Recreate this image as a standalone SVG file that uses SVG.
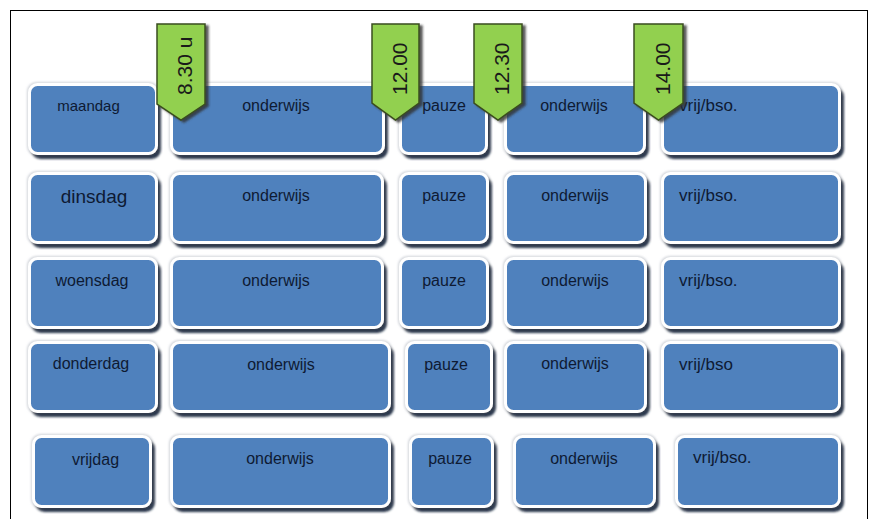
<svg xmlns="http://www.w3.org/2000/svg" width="873" height="519" viewBox="0 0 873 519">
<defs>
<filter id="sh" x="-10%" y="-10%" width="125%" height="135%">
<feMorphology in="SourceAlpha" operator="dilate" radius="1.2" result="d"/>
<feGaussianBlur in="d" stdDeviation="1" result="g"/>
<feFlood flood-color="#c8ccd2" flood-opacity="0.8"/>
<feComposite in2="g" operator="in" result="glow"/>
<feDropShadow in="SourceGraphic" dx="3" dy="4" stdDeviation="0.9" flood-color="#1d2b42" flood-opacity="0.95" result="ds"/>
<feMerge><feMergeNode in="glow"/><feMergeNode in="ds"/></feMerge>
</filter>
<filter id="ash" x="-20%" y="-10%" width="150%" height="130%">
<feDropShadow dx="3" dy="2" stdDeviation="0.8" flood-color="#333" flood-opacity="0.8"/>
</filter>
</defs>
<style>
.box{fill:#4f81bd;stroke:#ffffff;stroke-width:3;filter:url(#sh)}
.t{font-family:"Liberation Sans",Arial,sans-serif;font-size:16px;fill:#0e1a33;text-anchor:middle}
.l{text-anchor:start;font-size:17px}
.tag{fill:#92d050;stroke:#3b4d1f;stroke-width:1.5;stroke-linejoin:miter;filter:url(#ash)}
.tt{font-family:"Liberation Sans",Arial,sans-serif;font-size:21px;fill:#1a1a1a}
</style>
<rect x="0" y="0" width="873" height="519" fill="#ffffff"/>
<rect x="10.5" y="10.5" width="857" height="520" fill="none" stroke="#000" stroke-width="1"/>

<g id="row-maandag">
<g id="maandag"><rect class="box" x="29.5" y="84.5" width="127" height="69" rx="8"/><text class="t" x="88.5" y="111" style="font-size:15px">maandag</text></g>
<g id="ma-onderwijs1"><rect class="box" x="171.5" y="84.5" width="212" height="69" rx="8"/><text class="t" x="276" y="111">onderwijs</text></g>
<g id="ma-pauze"><rect class="box" x="400.5" y="84.5" width="86" height="69" rx="8"/><text class="t" x="444" y="111">pauze</text></g>
<g id="ma-onderwijs2"><rect class="box" x="505.5" y="84.5" width="139" height="69" rx="8"/><text class="t" x="574" y="111">onderwijs</text></g>
<g id="ma-vrij"><rect class="box" x="662.5" y="84.5" width="177" height="69" rx="8"/><text class="t l" x="679" y="111">vrij/bso.</text></g>
</g>

<g id="row-dinsdag">
<g id="dinsdag"><rect class="box" x="29.5" y="173.5" width="127" height="69" rx="8"/><text class="t" x="94" y="203" style="font-size:19px">dinsdag</text></g>
<g id="di-onderwijs1"><rect class="box" x="171.5" y="173.5" width="211" height="69" rx="8"/><text class="t" x="276" y="201">onderwijs</text></g>
<g id="di-pauze"><rect class="box" x="400.5" y="173.5" width="87" height="69" rx="8"/><text class="t" x="444" y="201">pauze</text></g>
<g id="di-onderwijs2"><rect class="box" x="505.5" y="173.5" width="140" height="69" rx="8"/><text class="t" x="575" y="201">onderwijs</text></g>
<g id="di-vrij"><rect class="box" x="662.5" y="173.5" width="177" height="69" rx="8"/><text class="t l" x="679" y="201">vrij/bso.</text></g>
</g>

<g id="row-woensdag">
<g id="woensdag"><rect class="box" x="29.5" y="258.5" width="127" height="69" rx="8"/><text class="t" x="92" y="286">woensdag</text></g>
<g id="wo-onderwijs1"><rect class="box" x="171.5" y="258.5" width="211" height="69" rx="8"/><text class="t" x="276" y="286">onderwijs</text></g>
<g id="wo-pauze"><rect class="box" x="400.5" y="258.5" width="87" height="69" rx="8"/><text class="t" x="444" y="286">pauze</text></g>
<g id="wo-onderwijs2"><rect class="box" x="505.5" y="258.5" width="140" height="69" rx="8"/><text class="t" x="575" y="286">onderwijs</text></g>
<g id="wo-vrij"><rect class="box" x="662.5" y="258.5" width="177" height="69" rx="8"/><text class="t l" x="679" y="286">vrij/bso.</text></g>
</g>

<g id="row-donderdag">
<g id="donderdag"><rect class="box" x="29.5" y="342.5" width="127" height="69" rx="8"/><text class="t" x="91" y="369">donderdag</text></g>
<g id="do-onderwijs1"><rect class="box" x="171.5" y="342.5" width="218" height="69" rx="8"/><text class="t" x="281" y="370">onderwijs</text></g>
<g id="do-pauze"><rect class="box" x="406.5" y="342.5" width="85" height="69" rx="8"/><text class="t" x="446" y="370">pauze</text></g>
<g id="do-onderwijs2"><rect class="box" x="505.5" y="342.5" width="140" height="69" rx="8"/><text class="t" x="575" y="369">onderwijs</text></g>
<g id="do-vrij"><rect class="box" x="662.5" y="342.5" width="177" height="69" rx="8"/><text class="t l" x="679" y="370">vrij/bso</text></g>
</g>

<g id="row-vrijdag">
<g id="vrijdag"><rect class="box" x="33.5" y="436.5" width="117" height="70" rx="8"/><text class="t" x="95.5" y="465">vrijdag</text></g>
<g id="vr-onderwijs1"><rect class="box" x="171.5" y="436.5" width="218" height="70" rx="8"/><text class="t" x="280" y="464">onderwijs</text></g>
<g id="vr-pauze"><rect class="box" x="410.5" y="436.5" width="82" height="70" rx="8"/><text class="t" x="450" y="464">pauze</text></g>
<g id="vr-onderwijs2"><rect class="box" x="514.5" y="436.5" width="140" height="70" rx="8"/><text class="t" x="584" y="464">onderwijs</text></g>
<g id="vr-vrij"><rect class="box" x="676.5" y="436.5" width="163" height="70" rx="8"/><text class="t l" x="693" y="463">vrij/bso.</text></g>
</g>

<g id="t0830"><polygon class="tag" points="157,24 205,24 205,104 181,120 157,104"/><text class="tt" transform="translate(192,95) rotate(-90)">8.30 u</text></g>
<g id="t1200"><polygon class="tag" points="372,24 419,24 419,103 395.5,120 372,103"/><text class="tt" transform="translate(407,95) rotate(-90)">12.00</text></g>
<g id="t1230"><polygon class="tag" points="474,24 522,24 522,103 498,120 474,103"/><text class="tt" transform="translate(509,95) rotate(-90)">12.30</text></g>
<g id="t1400"><polygon class="tag" points="634,24 683,24 683,103 658.5,120 634,103"/><text class="tt" transform="translate(670,95) rotate(-90)">14.00</text></g>
</svg>
